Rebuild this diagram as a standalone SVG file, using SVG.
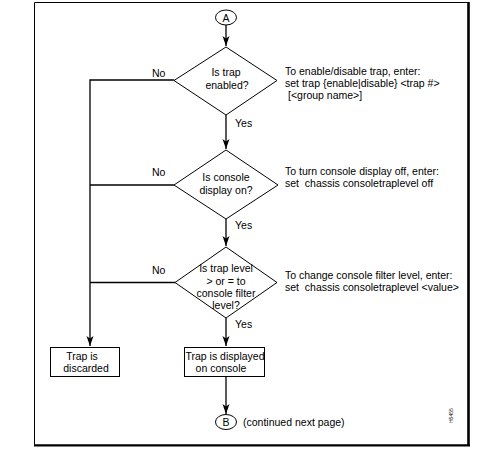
<svg xmlns="http://www.w3.org/2000/svg" width="490" height="453" viewBox="0 0 490 453">
<style>
text{font-family:"Liberation Sans",Arial,sans-serif;font-size:10.5px;fill:#000}
.c{text-anchor:middle}
.shape{fill:#fff;stroke:#000;stroke-width:1}
.ln{fill:none;stroke:#000;stroke-width:1.3}
</style>
<defs>
<marker id="ah" markerUnits="userSpaceOnUse" markerWidth="11" markerHeight="8" refX="10" refY="3.5" orient="auto">
<path d="M0,0 L10,3.5 L0,7 L2.5,3.5 Z" fill="#000"/>
</marker>
</defs>
<rect width="490" height="453" fill="#fff"/>
<!-- frame -->
<path d="M34.5,446 V2.5 H468.5" fill="none" stroke="#000" stroke-width="1"/>
<path d="M468.5,2 V446" fill="none" stroke="#000" stroke-width="2.6"/>
<path d="M34,445.3 H470" fill="none" stroke="#000" stroke-width="2.2"/>
<g id="connectors">
<path class="ln" d="M226,25 V46" marker-end="url(#ah)"/>
<path class="ln" d="M226,115 V149" marker-end="url(#ah)"/>
<path class="ln" d="M226,219 V246" marker-end="url(#ah)"/>
<path class="ln" d="M226,318 V346" marker-end="url(#ah)"/>
<path class="ln" d="M226,377 V414" marker-end="url(#ah)"/>
<path class="ln" d="M174,80 H90 V346" marker-end="url(#ah)"/>
<path class="ln" d="M174,185 H90"/>
<path class="ln" d="M175,282.5 H90"/>
<text x="152" y="77">No</text>
<text x="152" y="176">No</text>
<text x="152" y="274">No</text>
<text x="235" y="127">Yes</text>
<text x="235" y="229">Yes</text>
<text x="235" y="328">Yes</text>
</g>
<g id="startA">
<ellipse class="shape" cx="226" cy="17.5" rx="10.5" ry="7.5"/>
<text class="c" x="226" y="21.5">A</text>
</g>
<g id="q1">
<path class="shape" d="M226,47 L277,80.5 L226,115 L174,80.5 Z"/>
<text class="c" x="226" y="76">Is trap</text>
<text class="c" x="227" y="89">enabled?</text>
</g>
<g id="note1">
<text x="285" y="75">To enable/disable trap, enter:</text>
<text x="285" y="87">set trap {enable|disable} &lt;trap #&gt;</text>
<text x="288" y="99"> [&lt;group name&gt;]</text>
</g>
<g id="q2">
<path class="shape" d="M226,150 L278,185 L226,219 L174,185 Z"/>
<text class="c" x="226" y="181">Is console</text>
<text class="c" x="226" y="194">display on?</text>
</g>
<g id="note2">
<text x="285" y="175">To turn console display off, enter:</text>
<text x="285" y="187" xml:space="preserve">set  chassis consoletraplevel off</text>
</g>
<g id="q3">
<path class="shape" d="M226,247 L277,282.5 L226,318 L175,282.5 Z"/>
<text class="c" x="226" y="272">Is trap level</text>
<text class="c" x="226" y="285">&gt; or = to</text>
<text class="c" x="226" y="297">console filter</text>
<text class="c" x="226" y="309">level?</text>
</g>
<g id="note3">
<text x="285" y="279">To change console filter level, enter:</text>
<text x="285" y="291" xml:space="preserve">set  chassis consoletraplevel &lt;value&gt;</text>
</g>
<g id="discarded">
<rect class="shape" x="50.5" y="347.5" width="69" height="29"/>
<text class="c" x="82" y="360">Trap is</text>
<text class="c" x="86" y="372">discarded</text>
</g>
<g id="displayed">
<rect class="shape" x="184.5" y="347.5" width="80" height="29"/>
<text class="c" x="225" y="360">Trap is displayed</text>
<text class="c" x="221" y="372">on console</text>
</g>
<g id="endB">
<ellipse class="shape" cx="226" cy="422" rx="10.5" ry="7.5"/>
<text class="c" x="226" y="426">B</text>
<text x="243" y="426">(continued next page)</text>
</g>
<text x="453" y="423" transform="rotate(-90 453 423)" style="font-size:5px">H5455</text>
</svg>
